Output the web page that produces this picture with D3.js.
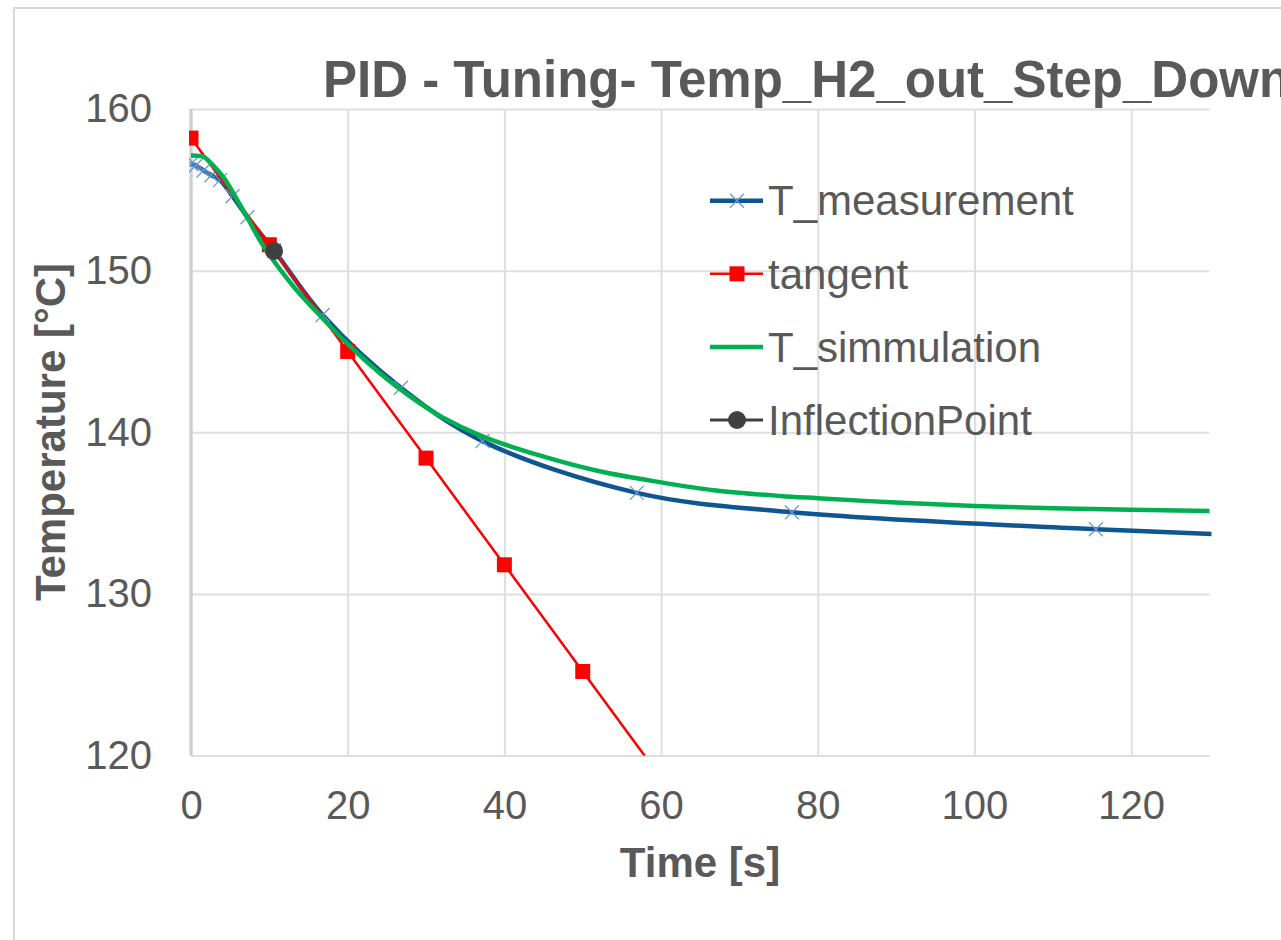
<!DOCTYPE html>
<html lang=en>

<head>
    <meta charset='utf-8'>
    <script src="https://d3js.org/d3.v7.min.js"></script>
    <style>
        body { margin: 0; background: #ffffff; }
        text { font-family: "Liberation Sans", Arial, sans-serif; fill: #595959; }
    </style>
</head>

<body>
    <div id="chart"></div>

    <script>
        // data
        var measTime = [0, 0.6, 1.6, 2.6, 3.7, 5.3, 7.2, 10.6, 16.8, 26.8, 37.2, 56.9, 76.7, 115.5, 154];
        var measTemp = [156.6, 156.5, 156.2, 155.9, 155.6, 154.6, 153.3, 151.25, 147.25, 142.75, 139.45, 136.25, 135.05, 134.0, 133.3];

        var tangentTime = [0, 10, 20, 30, 40, 50, 60];
        var tangentTemp = [158.2, 151.6, 145.0, 138.4, 131.8, 125.2, 118.6];

        var simTime = [0, 1, 1.6, 2.85, 4.1, 5.4, 7.1, 9.2, 12.2, 13.9, 16.7, 20, 24, 28, 32, 37.2, 44.6, 52, 60, 67, 75.2, 80, 90, 100, 110, 120, 130];
        var simTemp = [157.12, 157.1, 157.05, 156.5, 155.8, 154.8, 153.35, 151.55, 149.55, 148.55, 147.1, 145.45, 143.7, 142.2, 140.95, 139.75, 138.55, 137.6, 136.9, 136.4, 136.06, 135.92, 135.65, 135.44, 135.3, 135.2, 135.13];

        var inflTime = [10.6];
        var inflTemp = [151.22];

        var xTicks = [0, 20, 40, 60, 80, 100, 120];
        var yTicks = [120, 130, 140, 150, 160];

        var seriesNames = ["T_measurement", "tangent", "T_simmulation", "InflectionPoint"];

        var zip = function(a, b) { return a.map(function(v, i) { return [v, b[i]]; }); };

        // plot area
        var margin = {top: 109, left: 191},
            width = 1018.5,
            height = 646.5;

        var svg = d3.select("#chart")
            .append("svg")
                .attr("width", 1281)
                .attr("height", 940);

        svg.append("rect")
            .attr("width", 1281).attr("height", 940).attr("fill", "#ffffff");

        // outer chart frame
        svg.append("rect")
            .attr("x", 14).attr("y", 8)
            .attr("width", 1300).attr("height", 960)
            .attr("fill", "none")
            .attr("stroke", "#d9d9d9")
            .attr("stroke-width", 2);

        var g = svg.append("g")
            .attr("transform", "translate(" + margin.left + "," + margin.top + ")");

        var x = d3.scaleLinear().domain([0, 130]).range([0, width]);
        var y = d3.scaleLinear().domain([120, 160]).range([height, 0]);

        // gridlines
        var gx = g.append("g")
            .attr("transform", "translate(0," + height + ")")
            .call(d3.axisBottom(x).tickValues(xTicks).tickSize(-height).tickFormat(""));
        gx.select(".domain").remove();
        gx.selectAll("line").attr("stroke", "#dedede").attr("stroke-width", 2);

        var gy = g.append("g")
            .call(d3.axisLeft(y).tickValues(yTicks).tickSize(-width).tickFormat(""));
        gy.select(".domain").remove();
        gy.selectAll("line").attr("stroke", "#dedede").attr("stroke-width", 2);

        // y axis line
        g.append("line")
            .attr("x1", 0).attr("x2", 0)
            .attr("y1", 0).attr("y2", height)
            .attr("stroke", "#cccccc")
            .attr("stroke-width", 3);

        // tick labels
        var xl = g.append("g")
            .attr("transform", "translate(0," + height + ")")
            .call(d3.axisBottom(x).tickValues(xTicks).tickSize(0).tickPadding(35));
        xl.select(".domain").remove();
        xl.selectAll("text").style("font-size", "40px").attr("fill", "#595959");

        var yl = g.append("g")
            .call(d3.axisLeft(y).tickValues(yTicks).tickSize(0).tickPadding(39));
        yl.select(".domain").remove();
        yl.selectAll("text").style("font-size", "40px").attr("fill", "#595959");

        // clip to the plot area
        svg.append("clipPath").attr("id", "plotclip")
            .append("rect")
            .attr("x", -2).attr("y", -2)
            .attr("width", width + 4).attr("height", height + 2);

        var plot = g.append("g").attr("clip-path", "url(#plotclip)");

        var line = d3.line()
            .x(function(d) { return x(d[0]); })
            .y(function(d) { return y(d[1]); })
            .curve(d3.curveCatmullRom.alpha(0.5));

        var straight = d3.line()
            .x(function(d) { return x(d[0]); })
            .y(function(d) { return y(d[1]); });

        var meas = zip(measTime, measTemp);
        var sim = zip(simTime, simTemp);
        var tang = zip(tangentTime, tangentTemp);
        var infl = zip(inflTime, inflTemp);

        var xMark = "M-7,-7L7,7M-7,7L7,-7";

        // measurement
        plot.append("path")
            .datum(meas)
            .attr("d", line)
            .attr("fill", "none")
            .attr("stroke", "#0f5591")
            .attr("stroke-width", 4.5);

        plot.selectAll(".mx")
            .data(meas)
            .enter().append("path")
            .attr("class", "mx")
            .attr("d", xMark)
            .attr("transform", function(d) { return "translate(" + x(d[0]) + "," + y(d[1]) + ")"; })
            .attr("stroke", "#6a9bd1")
            .attr("stroke-width", 1.3)
            .attr("fill", "none");

        // tangent
        plot.append("path")
            .datum(tang)
            .attr("d", straight)
            .attr("fill", "none")
            .attr("stroke", "#ff0000")
            .attr("stroke-width", 2.5);

        plot.selectAll(".sq")
            .data(tang)
            .enter().append("rect")
            .attr("class", "sq")
            .attr("x", function(d) { return x(d[0]) - 7.5; })
            .attr("y", function(d) { return y(d[1]) - 7.5; })
            .attr("width", 15).attr("height", 15)
            .attr("fill", "#ff0000");

        // simulation
        plot.append("path")
            .datum(sim)
            .attr("d", line)
            .attr("fill", "none")
            .attr("stroke", "#00b050")
            .attr("stroke-width", 4.5);

        // inflection point
        plot.selectAll(".ip")
            .data(infl)
            .enter().append("circle")
            .attr("class", "ip")
            .attr("cx", function(d) { return x(d[0]); })
            .attr("cy", function(d) { return y(d[1]); })
            .attr("r", 9)
            .attr("fill", "#404040");

        // title (runs off the right edge, as in the original)
        svg.append("text")
            .attr("x", 323)
            .attr("y", 97)
            .style("font-size", "51px")
            .style("font-weight", "bold")
            .text("PID - Tuning- Temp_H2_out_Step_Down");

        // axis titles
        svg.append("text")
            .attr("x", 700)
            .attr("y", 877)
            .attr("text-anchor", "middle")
            .style("font-size", "42px")
            .style("font-weight", "bold")
            .text("Time [s]");

        svg.append("text")
            .attr("transform", "translate(65,432) rotate(-90)")
            .attr("text-anchor", "middle")
            .style("font-size", "42px")
            .style("font-weight", "bold")
            .text("Temperature [°C]");

        // legend
        var legColors = ["#0f5591", "#ff0000", "#00b050", "#404040"];
        var legLine = [4.5, 2.5, 4.5, 3];
        var legend = svg.selectAll(".leg")
            .data(seriesNames)
            .enter().append("g")
            .attr("class", "leg")
            .attr("transform", function(d, i) { return "translate(710," + (200.7 + i * 73.1) + ")"; });

        legend.append("line")
            .attr("x1", 0).attr("x2", 53)
            .attr("stroke", function(d, i) { return legColors[i]; })
            .attr("stroke-width", function(d, i) { return legLine[i]; });

        legend.filter(function(d, i) { return i === 0; })
            .append("path")
            .attr("d", xMark)
            .attr("transform", "translate(27,0)")
            .attr("stroke", "#6a9bd1")
            .attr("stroke-width", 1.3);

        legend.filter(function(d, i) { return i === 1; })
            .append("rect")
            .attr("x", 19.5).attr("y", -7.5)
            .attr("width", 15).attr("height", 15)
            .attr("fill", "#ff0000");

        legend.filter(function(d, i) { return i === 3; })
            .append("circle")
            .attr("cx", 27).attr("r", 9)
            .attr("fill", "#404040");

        legend.append("text")
            .attr("x", 58)
            .attr("dy", "0.35em")
            .style("font-size", "42px")
            .text(function(d) { return d; });
    </script>
</body>

</html>
